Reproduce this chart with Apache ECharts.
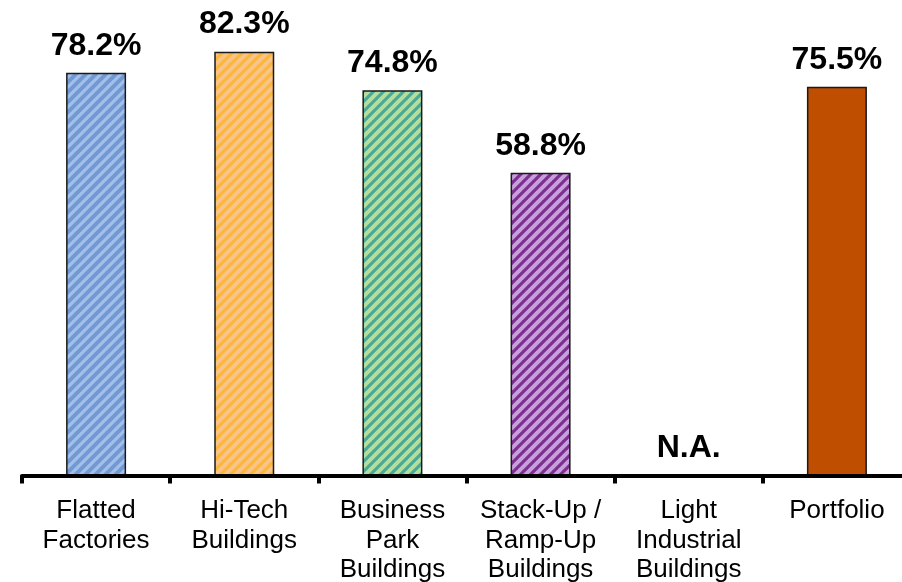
<!DOCTYPE html>
<html>
<head>
<meta charset="utf-8">
<script src="https://cdn.jsdelivr.net/npm/echarts@6/dist/echarts.min.js"></script>
<style>
html,body{margin:0;padding:0;background:#fff;}
#chart{width:902px;height:582px;}
</style>
</head>
<body>
<div id="chart"></div>
<script>
// ---- data ----
const categories = ["Flatted\nFactories", "Hi-Tech\nBuildings", "Business\nPark\nBuildings", "Stack-Up /\nRamp-Up\nBuildings", "Light\nIndustrial\nBuildings", "Portfolio"];
const occupancy = [78.2, 82.3, 74.8, 58.8, null, 75.5];
const valueLabels = ["78.2%", "82.3%", "74.8%", "58.8%", "N.A.", "75.5%"];

// ---- styles ----
function stripes(base, stripe, period) {
  const c = document.createElement('canvas');
  c.width = period; c.height = period;
  const g = c.getContext('2d');
  g.fillStyle = base; g.fillRect(0, 0, period, period);
  g.strokeStyle = stripe; g.lineWidth = period * 0.4;
  g.beginPath();
  for (let k = -1; k <= 1; k++) {
    g.moveTo(k * period - 1, period + 1);
    g.lineTo(k * period + period + 1, -1);
  }
  g.stroke();
  return { image: c, repeat: 'repeat' };
}
const fills = [
  stripes('#a3c0ea', '#7399d4', 10),
  stripes('#fcb63a', '#f7c490', 10),
  stripes('#4aa996', '#b6de9a', 10),
  stripes('#7d2e91', '#c6a0d8', 10),
  'rgba(0,0,0,0)',
  '#bf4e00'
];

const seriesData = occupancy.map((v, i) => ({
  value: v === null ? 0 : v,
  itemStyle: {
    color: fills[i],
    borderColor: v === null ? 'rgba(0,0,0,0)' : '#1a1a1a',
    borderWidth: v === null ? 0 : 1.5
  },
  label: { formatter: valueLabels[i] }
}));

const chart = echarts.init(document.getElementById('chart'), null, { renderer: 'canvas' });
chart.setOption({
  animation: false,
  backgroundColor: '#ffffff',
  grid: { left: 22, width: 889, top: 1.7, bottom: 106.5, containLabel: false, outerBoundsMode: 'none' },
  xAxis: {
    type: 'category',
    data: categories,
    z: 5,
    axisLine: { lineStyle: { color: '#000', width: 4 } },
    axisTick: { show: true, length: 8, lineStyle: { color: '#000', width: 4 } },
    axisLabel: {
      interval: 0,
      margin: 21,
      color: '#000',
      fontFamily: 'Liberation Sans, Arial, sans-serif',
      fontSize: 26,
      lineHeight: 29.5
    }
  },
  yAxis: {
    type: 'value',
    min: 0,
    max: 92,
    show: false,
    splitLine: { show: false }
  },
  series: [{
    type: 'bar',
    data: seriesData,
    barWidth: 60,
    label: {
      show: true,
      position: 'top',
      distance: 11,
      color: '#000',
      fontFamily: 'Liberation Sans, Arial, sans-serif',
      fontWeight: 'bold',
      fontSize: 32
    }
  }]
});
</script>
</body>
</html>
